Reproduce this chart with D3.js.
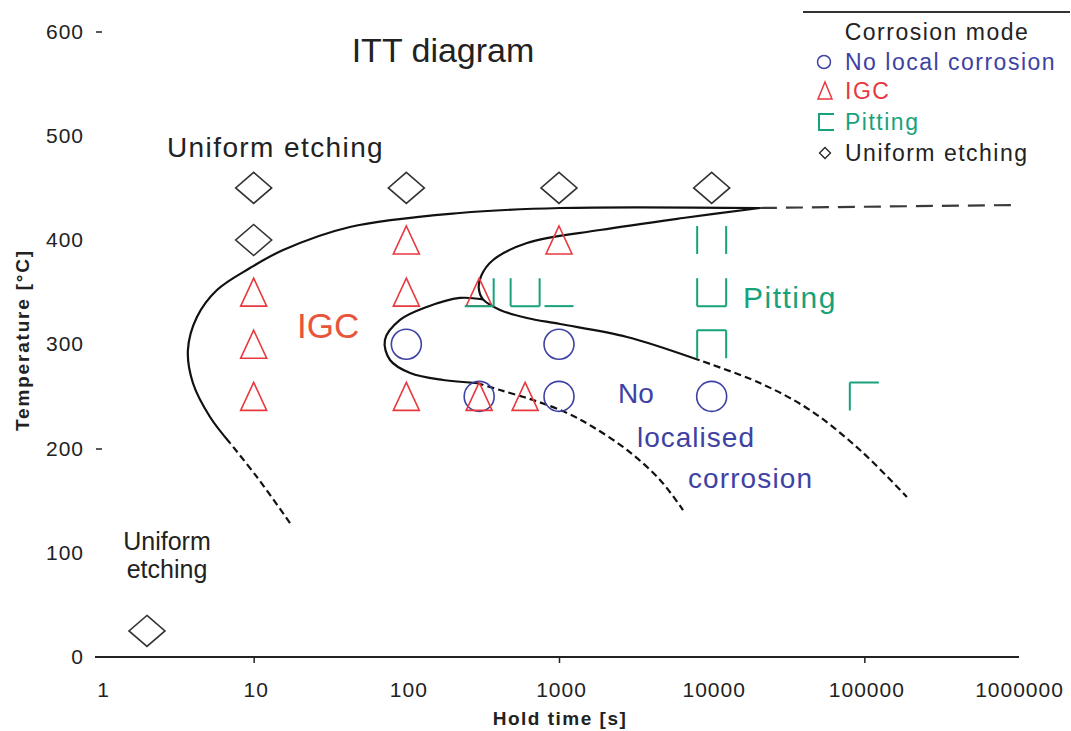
<!DOCTYPE html>
<html><head><meta charset="utf-8">
<script src="https://cdn.jsdelivr.net/npm/d3@7"></script>
<style>body{margin:0;background:#fff} svg{display:block} text{font-family:"Liberation Sans",Arial,sans-serif}</style>
</head><body><svg id="c" width="1071" height="731"></svg>
<script>
// ---- data ----
const xTickValues = [1, 10, 100, 1000, 10000, 100000, 1000000];
const xTickMarks = [10, 1000, 100000];
const yTickValues = [0, 100, 200, 300, 400, 500, 600];
const yTickMarks = [200, 600];

const uniformTime = [2, 10, 100, 1000, 10000, 10];
const uniformTemp = [25, 450, 450, 450, 450, 400];
const igcTime = [10, 10, 10, 100, 100, 100, 300, 300, 600, 1000];
const igcTemp = [350, 300, 250, 400, 350, 250, 350, 250, 250, 400];
const noLocalTime = [100, 300, 1000, 1000, 10000];
const noLocalTemp = [300, 250, 300, 250, 250];
const pittingTime = [300, 600, 1000, 10000, 10000, 10000, 100000];
const pittingTemp = [350, 350, 350, 400, 350, 300, 250];
const pittingSides = ["BR", "LBR", "B", "LR", "LBR", "TLR", "TL"];

// boundary curves [hold time s, temperature °C]
const curve1Lower = [[17.3, 128.5], [10.5, 172.7], [7.0, 205.3]];
const curve1Solid = [[7.0, 205.3], [5.18, 230.2], [4.0, 262.8], [3.71, 294.5], [4.25, 326.1], [5.75, 352.0], [9.46, 373.1], [15.6, 390.4], [42.7, 412.5], [224, 425.9], [1015, 430.7], [20700, 430.7]];
const curve1Upper = [[20700, 430.7], [985000, 433.6]];
const curve2Solid = [[20700, 430.7], [6490, 421.1], [1855, 409.6], [617, 397.1], [370, 380.8], [310, 366], [298, 354], [318, 343], [411, 332.9], [617, 325.2], [1015, 319.4], [2790, 307.0], [7550, 286.8]];
const curve2Lower = [[7550, 286.8], [20700, 262.8], [44000, 236.9], [93600, 198.6], [190000, 153.5]];
const curve3Solid = [[318, 343], [224, 344.4], [136, 335.7], [90.9, 323.3], [72.4, 304.1], [78.2, 284.9], [106, 272.4], [174, 265.7], [290, 262.8]];
const curve3Lower = [[290, 262.8], [411, 256.1], [676, 246.5], [1128, 234.1], [1670, 220.6], [2790, 198.6], [4590, 169.8], [6490, 141.0]];

const legendTitle = "Corrosion mode";
const legendLabels = ["No local corrosion", "IGC", "Pitting", "Uniform etching"];

// ---- styles ----
const BLUE = "#3d42a3", RED = "#e8383e", ORANGE = "#e8553a", GREEN = "#17a27b", INK = "#222";

const svg = d3.select("#c");
const x = d3.scaleLog().domain([1, 1e6]).range([101, 1017]);
const y = d3.scaleLinear().domain([0, 600]).range([657, 31.5]);

// axes
const gx = svg.append("g").attr("transform", "translate(2,657)")
  .call(d3.axisBottom(x).tickValues(xTickValues).tickFormat(d3.format("d")).tickSize(0).tickPadding(0));
gx.select(".domain").remove();
gx.selectAll("text").attr("y", 25).attr("fill", INK).style("font-size", "21px").style("letter-spacing", "1px").attr("font-family", null);

const gxm = svg.append("g").attr("transform", "translate(0,657)")
  .call(d3.axisBottom(x).tickValues(xTickMarks).tickFormat("").tickSize(6));
gxm.select(".domain").remove();
gxm.selectAll("line").attr("stroke", INK).attr("stroke-width", 1.5);

svg.append("line").attr("x1", x(1) - 6).attr("x2", x(1e6) + 2).attr("y1", y(0)).attr("y2", y(0))
  .attr("stroke", INK).attr("stroke-width", 2.2);

const gy = svg.append("g").attr("transform", "translate(102,0)")
  .call(d3.axisLeft(y).tickValues(yTickValues).tickSize(0).tickPadding(18));
gy.select(".domain").remove();
gy.selectAll("text").attr("fill", INK).style("font-size", "21px").style("letter-spacing", "1px").attr("font-family", null);

const gym = svg.append("g").attr("transform", "translate(102,0)")
  .call(d3.axisLeft(y).tickValues(yTickMarks).tickFormat("").tickSize(6));
gym.select(".domain").remove();
gym.selectAll("line").attr("stroke", INK).attr("stroke-width", 1.5);

svg.append("text").attr("x", 560).attr("y", 725).attr("text-anchor", "middle")
  .attr("fill", INK).style("font-size", "19px").style("font-weight", "bold").style("letter-spacing", "1.5px")
  .text("Hold time [s]");
svg.append("text").attr("transform", "translate(29,340) rotate(-90)").attr("text-anchor", "middle")
  .attr("fill", INK).style("font-size", "19px").style("font-weight", "bold").style("letter-spacing", "1.8px")
  .text("Temperature [°C]");

// curves
const line = d3.line().x(d => x(d[0])).y(d => y(d[1])).curve(d3.curveCatmullRom.alpha(0.5));
const drawCurve = (data, dash, color) => svg.append("path").attr("d", line(data))
  .attr("fill", "none").attr("stroke", color || "#111").attr("stroke-width", 2.2)
  .attr("stroke-dasharray", dash || null).attr("stroke-linecap", "butt");
drawCurve(curve1Solid);
drawCurve(curve1Lower, "7,4");
drawCurve(curve1Upper, "17,9", "#3a3a3a");
drawCurve(curve2Solid);
drawCurve(curve2Lower, "7,4");
drawCurve(curve3Solid);
drawCurve(curve3Lower, "7,4");

// symbols
const sym = svg.append("g").attr("fill", "none").attr("stroke-width", 1.6);
uniformTime.forEach((t, i) => {
  const cx = x(t), cy = y(uniformTemp[i]);
  sym.append("path").attr("stroke", "#333")
    .attr("d", `M${cx},${cy - 15.5}L${cx + 18},${cy}L${cx},${cy + 15.5}L${cx - 18},${cy}Z`);
});
noLocalTime.forEach((t, i) => {
  sym.append("circle").attr("cx", x(t)).attr("cy", y(noLocalTemp[i])).attr("r", 15).attr("stroke", BLUE);
});
igcTime.forEach((t, i) => {
  const cx = x(t), cy = y(igcTemp[i]);
  sym.append("path").attr("stroke", RED)
    .attr("d", `M${cx},${cy - 14}L${cx + 13},${cy + 14}L${cx - 13},${cy + 14}Z`);
});
pittingTime.forEach((t, i) => {
  const cx = x(t), cy = y(pittingTemp[i]);
  const l = cx - 14.5, r = cx + 14.5, tp = cy - 14, b = cy + 14;
  const s = pittingSides[i];
  let d = "";
  if (s.includes("T")) d += `M${l},${tp}L${r},${tp}`;
  if (s.includes("L")) d += `M${l},${tp}L${l},${b}`;
  if (s.includes("B")) d += `M${l},${b}L${r},${b}`;
  if (s.includes("R")) d += `M${r},${tp}L${r},${b}`;
  sym.append("path").attr("stroke", GREEN).attr("stroke-width", 2).attr("d", d);
});

// annotations
const note = (txt, xx, yy, size, color, ls, anchor) => svg.append("text")
  .attr("x", xx).attr("y", yy).attr("fill", color).attr("text-anchor", anchor || "start")
  .style("font-size", size + "px").style("letter-spacing", (ls || 0) + "px").text(txt);
note("ITT diagram", 443, 62, 34, INK, 0, "middle");
note("Uniform etching", 167, 157, 28, INK, 1.4);
note("IGC", 297, 338, 35, ORANGE, 0);
note("Pitting", 743, 308, 30, GREEN, 1.5);
note("No", 618, 403, 28, BLUE, 0);
note("localised", 637, 447, 28, BLUE, 1);
note("corrosion", 688, 488, 28, BLUE, 1.1);
note("Uniform", 167, 550, 25, INK, 0, "middle");
note("etching", 167, 578, 25, INK, 0, "middle");

// legend
const lg = svg.append("g");
lg.append("line").attr("x1", 803).attr("x2", 1070).attr("y1", 12).attr("y2", 12).attr("stroke", "#333").attr("stroke-width", 2);
lg.append("text").attr("x", 937).attr("y", 40).attr("text-anchor", "middle").attr("fill", INK)
  .style("font-size", "23px").style("letter-spacing", "1.5px").text(legendTitle);
const legColors = [BLUE, RED, GREEN, INK];
const rowY = [62, 91, 122, 153];
legendLabels.forEach((lab, i) => {
  lg.append("text").attr("x", 845).attr("y", rowY[i] + 8).attr("fill", legColors[i])
    .style("font-size", "23px").style("letter-spacing", "1.5px").text(lab);
});
lg.append("circle").attr("cx", 824).attr("cy", rowY[0]).attr("r", 6.5).attr("fill", "none").attr("stroke", BLUE).attr("stroke-width", 1.5);
lg.append("path").attr("d", `M825,${rowY[1] - 9}L832,${rowY[1] + 8}L818,${rowY[1] + 8}Z`).attr("fill", "none").attr("stroke", RED).attr("stroke-width", 1.5);
lg.append("path").attr("d", `M834,${rowY[2] - 8}L819,${rowY[2] - 8}L819,${rowY[2] + 8}L834,${rowY[2] + 8}`).attr("fill", "none").attr("stroke", GREEN).attr("stroke-width", 2);
lg.append("path").attr("d", `M825,${rowY[3] - 5.5}L830.5,${rowY[3]}L825,${rowY[3] + 5.5}L819.5,${rowY[3]}Z`).attr("fill", "none").attr("stroke", INK).attr("stroke-width", 1.3);
</script></body></html>
